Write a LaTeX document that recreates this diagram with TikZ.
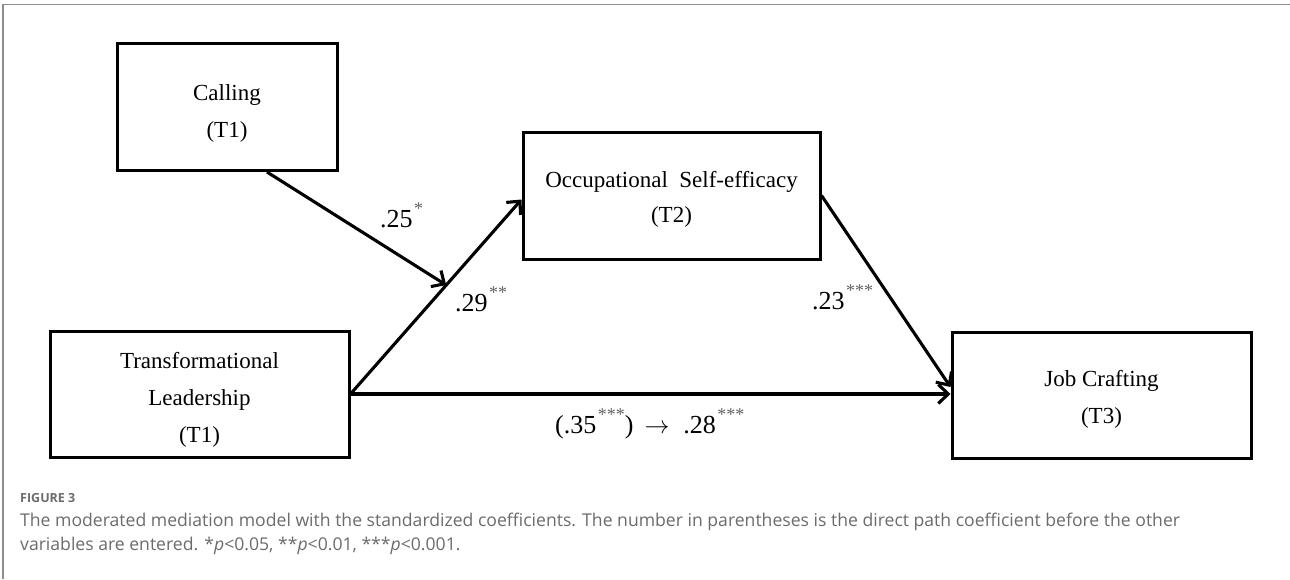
\documentclass[tikz,border=0pt]{standalone}
\usepackage{fontspec}
\setmainfont{Liberation Serif}
\newfontfamily\capfont{Open Sans}
\usetikzlibrary{arrows.meta,shadows,calc}
\newcommand\stars[1]{\kern1.5pt\raisebox{12.5pt}{\fontsize{18}{18}\selectfont\color{black!62}#1}}
\begin{document}
\begin{tikzpicture}[x=1pt,y=-1pt,
  box/.style={draw=black, line width=3pt, inner sep=0pt, fill=white,
    drop shadow={shadow xshift=1.5pt, shadow yshift=-1.8pt, fill=black, opacity=0.3}},
  boxtext/.style={inner sep=0pt, align=center, font=\fontsize{23}{37}\selectfont},
  arr/.style={line width=3.1pt, -{Straight Barb[length=10pt,width=19pt]}},
  lab/.style={inner sep=0pt, anchor=base west, font=\fontsize{26}{30}\selectfont},
  captext/.style={inner sep=0pt, anchor=base west, text=black!58, font=\capfont\fontsize{17.6}{20}\selectfont},
  frameline/.style={draw=black!45, line width=1.4pt}]
\useasboundingbox (0,0) rectangle (1290,579);
\draw[frameline] (3,579) -- (3,4.5) -- (1290,4.5);

\node[box, minimum width=220pt, minimum height=127pt] (call) at (227,107) {};
\node[box, minimum width=297pt, minimum height=127pt] (ose) at (671.5,195.5) {};
\node[box, minimum width=299pt, minimum height=126pt] (tl) at (199.5,394) {};
\node[box, minimum width=299pt, minimum height=126pt] (jc) at (1101.5,395) {};

\node[boxtext] (callt) at ([yshift=-6pt]call.center) {Calling\\(T1)};
\node[boxtext, font=\fontsize{23}{35}\selectfont] (oset) at ([yshift=-4pt]ose.center) {Occupational\ \ Self-efficacy\\(T2)};
\node[boxtext] (tlt) at ([yshift=-6pt]tl.center) {Transformational\\Leadership\\(T1)};
\node[boxtext] (jct) at ([yshift=-4pt]jc.center) {Job Crafting\\(T3)};

\draw[arr] (tl.east) -- coordinate[pos=0.56] (mid) ([yshift=-4pt]ose.west);
\draw[arr] ([xshift=40pt]call.south) -- (mid);
\draw[arr] (ose.east) -- ([yshift=8pt]jc.west);
\draw[arr] (tl.east) -- (tl.east -| jc.west);

\node[lab] (l25) at (380,227) {.25\stars{*}};
\node[lab] (l29) at (455,311) {.29\stars{**}};
\node[lab] (l23) at (812,309) {.23\stars{***}};
\node[lab] (l35) at (555,433) {(.35\stars{***})\hspace{11pt}{\fontsize{28}{28}\selectfont$\rightarrow$}\hspace{14pt}.28\stars{***}};

\node[captext, font=\capfont\bfseries\fontsize{12.5}{14}\selectfont] (fig) at (20,502) {FIGURE 3};
\node[captext] (cap1) at (20,526) {The moderated mediation model with the standardized coefficients. The number in parentheses is the direct path coefficient before the other};
\node[captext] (cap2) at (20,550) {variables are entered. *\textit{p}<0.05, **\textit{p}<0.01, ***\textit{p}<0.001.};
\end{tikzpicture}
\end{document}
